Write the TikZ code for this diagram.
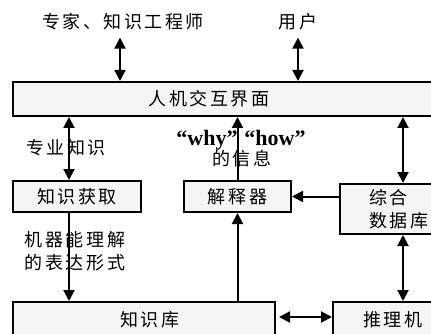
\documentclass[tikz,border=0pt]{standalone}
\usepackage{fontspec}
\setmainfont{Liberation Serif}
\newfontfamily\cjk{Noto Sans CJK SC}[LetterSpace=14]
\usetikzlibrary{arrows.meta,calc}
\tikzset{
  box/.style={draw, line width=2pt, fill=gray!8, inner sep=0pt},
  lbl/.style={font=\cjk\fontsize{18}{23}\selectfont, inner sep=0pt},
  eng/.style={font=\bfseries\fontsize{22}{26}\selectfont, inner sep=0pt, anchor=base},
  tip/.tip={Triangle[length=11pt,width=11pt]},
  arr/.style={line width=2pt, -tip},
  dbl/.style={line width=2pt, tip-tip}
}
\begin{document}
\begin{tikzpicture}[x=1pt,y=-1pt]
\useasboundingbox (0,0) rectangle (431,334);
\clip (0,0) rectangle (431,334);
% boxes
\node[box, minimum width=447pt, minimum height=34pt] (ui) at (236.5,99) {};
\node[box, minimum width=128pt, minimum height=31pt, lbl] (acq) at (77,196.5) {知识获取};
\node[box, minimum width=107pt, minimum height=31pt, lbl] (exp) at (237.5,196.5) {解释器};
\node[box, minimum width=140pt, minimum height=50pt] (db) at (410,209) {};
\node[box, minimum width=262pt, minimum height=68pt] (kb) at (144,336) {};
\node[box, minimum width=147pt, minimum height=68pt] (inf) at (406.5,336) {};
% texts in boxes
\node[lbl] (uit) at (209,99) {人机交互界面};
\node[lbl, align=left, anchor=west] (dbt) at (369,209) {综合\\数据库};
\node[lbl] (kbt) at (150,320) {知识库};
\node[lbl] (inft) at (393,320) {推理机};
% labels
\node[lbl] (expert) at (123,22) {专家、知识工程师};
\node[lbl] (user) at (298,22) {用户};
\node[lbl] (zy) at (66,148) {专业知识};
\node[lbl, align=left] (jq) at (75,251) {机器能理解\\的表达形式};
\node[eng] (why) at (207,146) {“why”};
\node[eng] (how) at (275,146) {“how”};
\node[lbl] (xx) at (242,159) {的信息};
% helper coordinates
\coordinate (cx1) at (69,0);
\coordinate (cx2) at (403,0);
\coordinate (h) at (0,317);
% connectors
\draw[dbl] ($(expert.south)+(-3,7)$) -- ($(expert.south |- ui.north)+(-3,0)$);
\draw[dbl] ($(user.south)+(0,7)$) -- (user.south |- ui.north);
\draw[dbl] (cx1 |- ui.south) -- (cx1 |- acq.north);
\draw[arr] (cx1 |- acq.south) -- (cx1 |- kb.north);
\draw[arr] (exp.north) -- (exp.north |- ui.south);
\draw[arr] (exp.south |- kb.north) -- (exp.south);
\draw[arr] (exp.east -| db.west) -- (exp.east);
\draw[dbl] (cx2 |- ui.south) -- (cx2 |- db.north);
\draw[dbl] (cx2 |- db.south) -- (cx2 |- inf.north);
\draw[dbl] ($(kb.north east |- h)+(3,0)$) -- (inf.north west |- h);
\end{tikzpicture}
\end{document}
